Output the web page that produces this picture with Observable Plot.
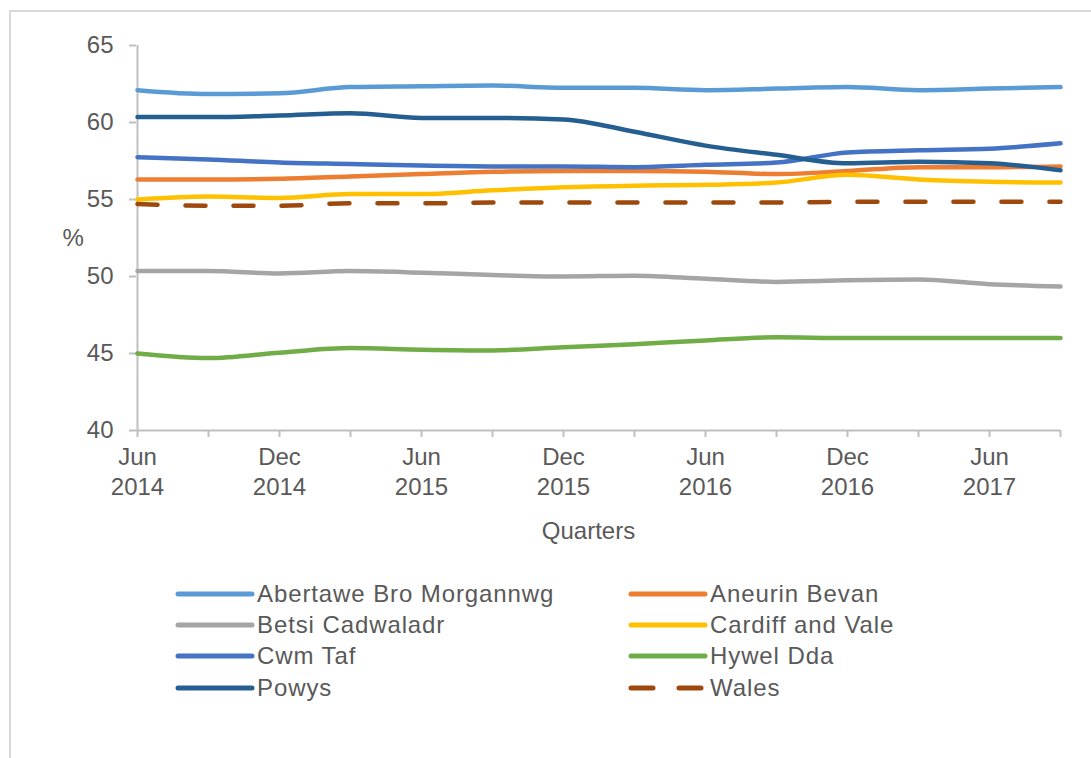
<!DOCTYPE html>
<html>
<head>
<meta charset="utf-8">
<script src="https://cdn.jsdelivr.net/npm/d3@7"></script>
<script src="https://cdn.jsdelivr.net/npm/@observablehq/plot@0.6"></script>
<style>
  html, body { margin: 0; padding: 0; background: #fff; }
  #wrap { position: relative; width: 1091px; height: 758px; overflow: hidden; font-family: "Liberation Sans", Arial, sans-serif; }
  #frame { position: absolute; left: 9px; top: 10px; width: 1300px; height: 1000px; border-top: 2px solid #d9d9d9; border-left: 2px solid #d9d9d9; }
  #chart { position: absolute; left: 0; top: 0; }
  .leg { position: absolute; display: flex; align-items: center; font-size: 24px; letter-spacing: 0.9px; color: #595959; white-space: nowrap; }
  .leg svg { margin-right: 2px; }
</style>
</head>
<body>
<div id="wrap"><div id="frame"></div><div id="chart"></div><div id="legend"></div></div>
<script>
const quarters = ["Jun 2014","Sep 2014","Dec 2014","Mar 2015","Jun 2015","Sep 2015","Dec 2015","Mar 2016","Jun 2016","Sep 2016","Dec 2016","Mar 2017","Jun 2017","Sep 2017"];
const seriesNames = ["Abertawe Bro Morgannwg","Aneurin Bevan","Betsi Cadwaladr","Cardiff and Vale","Cwm Taf","Hywel Dda","Powys","Wales"];
const seriesColors = ["#5B9BD5","#ED7D31","#A5A5A5","#FFC000","#4472C4","#70AD47","#255E91","#9E480E"];
const abertawe = [62.1, 61.85, 61.9, 62.3, 62.35, 62.4, 62.25, 62.25, 62.1, 62.2, 62.3, 62.1, 62.2, 62.3];
const aneurin  = [56.3, 56.3, 56.35, 56.5, 56.65, 56.8, 56.85, 56.85, 56.8, 56.65, 56.85, 57.1, 57.1, 57.15];
const betsi    = [50.35, 50.35, 50.2, 50.35, 50.25, 50.1, 50.0, 50.05, 49.85, 49.65, 49.75, 49.8, 49.5, 49.35];
const cardiff  = [55.0, 55.2, 55.1, 55.35, 55.35, 55.6, 55.8, 55.9, 55.95, 56.1, 56.6, 56.3, 56.15, 56.1];
const cwmTaf   = [57.75, 57.6, 57.4, 57.3, 57.2, 57.15, 57.15, 57.1, 57.25, 57.4, 58.05, 58.2, 58.3, 58.65];
const hywelDda = [45.0, 44.7, 45.05, 45.35, 45.25, 45.2, 45.4, 45.6, 45.85, 46.05, 46.0, 46.0, 46.0, 46.0];
const powys    = [60.35, 60.35, 60.45, 60.6, 60.3, 60.3, 60.2, 59.4, 58.5, 57.9, 57.35, 57.45, 57.35, 56.9];
const wales    = [54.7, 54.6, 54.6, 54.75, 54.75, 54.8, 54.8, 54.8, 54.8, 54.8, 54.85, 54.85, 54.85, 54.85];
const yTicks = [40, 45, 50, 55, 60, 65];
const xLabel = "Quarters";
const yLabel = "%";

const seriesValues = [abertawe, aneurin, betsi, cardiff, cwmTaf, hywelDda, powys, wales];
const rows = [];
seriesNames.forEach((name, s) => {
  seriesValues[s].forEach((v, i) => rows.push({series: name, quarter: quarters[i], value: v}));
});
const solidRows = rows.filter(d => d.series !== "Wales");
const walesRows = rows.filter(d => d.series === "Wales");

const axisColor = "#bfbfbf";
const textColor = "#595959";

const chart = Plot.plot({
  width: 1091,
  height: 560,
  marginLeft: 136,
  marginRight: 31,
  marginTop: 45,
  marginBottom: 130,
  style: {fontFamily: "Liberation Sans, Arial, sans-serif", fontSize: "24px", color: textColor, background: "transparent"},
  x: {type: "point", domain: quarters, padding: 0},
  y: {domain: [40, 65]},
  color: {domain: seriesNames, range: seriesColors},
  marks: [
    Plot.ruleY([40], {stroke: axisColor, strokeWidth: 2}),
    Plot.ruleX([quarters[0]], {stroke: axisColor, strokeWidth: 2}),
    Plot.axisY({ticks: yTicks, tickSize: 7, tickPadding: 16, stroke: axisColor, strokeWidth: 2, fill: textColor, fontSize: 24, label: null}),
    Plot.axisX({
      ticks: quarters, tickSize: 7, tickPadding: 6, stroke: axisColor, strokeWidth: 2, fill: textColor, fontSize: 24, lineHeight: 1.25, label: null,
      tickFormat: d => (d.startsWith("Jun") || d.startsWith("Dec")) ? d.replace(" ", "\n") : ""
    }),
    Plot.line(solidRows, {x: "quarter", y: "value", z: "series", stroke: "series", strokeWidth: 4.5, curve: "monotone-x"}),
    Plot.line(walesRows, {x: "quarter", y: "value", stroke: "series", strokeWidth: 4.5, curve: "monotone-x", strokeDasharray: "20,28", strokeLinecap: "round"}),
    Plot.text([yLabel], {frameAnchor: "left", dx: -74, text: d => d, fill: textColor, fontSize: 24}),
    Plot.text([xLabel], {frameAnchor: "bottom", dy: 108, dx: -10, text: d => d, fill: textColor, fontSize: 24})
  ]
});
document.getElementById("chart").appendChild(chart);

// Legend (two columns, four rows)
const legend = document.getElementById("legend");
const colX = [175, 628];
const rowY = [594, 625, 656, 688];
seriesNames.forEach((name, i) => {
  const col = i % 2, row = Math.floor(i / 2);
  const item = document.createElement("div");
  item.className = "leg";
  item.style.left = colX[col] + "px";
  item.style.top = (rowY[row] - 15) + "px";
  item.style.height = "30px";
  const dash = name === "Wales" ? 'stroke-dasharray="22,26"' : "";
  item.innerHTML = `<svg width="80" height="10"><line x1="3" y1="5" x2="77" y2="5" stroke="${seriesColors[i]}" stroke-width="5" stroke-linecap="round" ${dash}/></svg><span>${name}</span>`;
  legend.appendChild(item);
});
</script>
</body>
</html>
